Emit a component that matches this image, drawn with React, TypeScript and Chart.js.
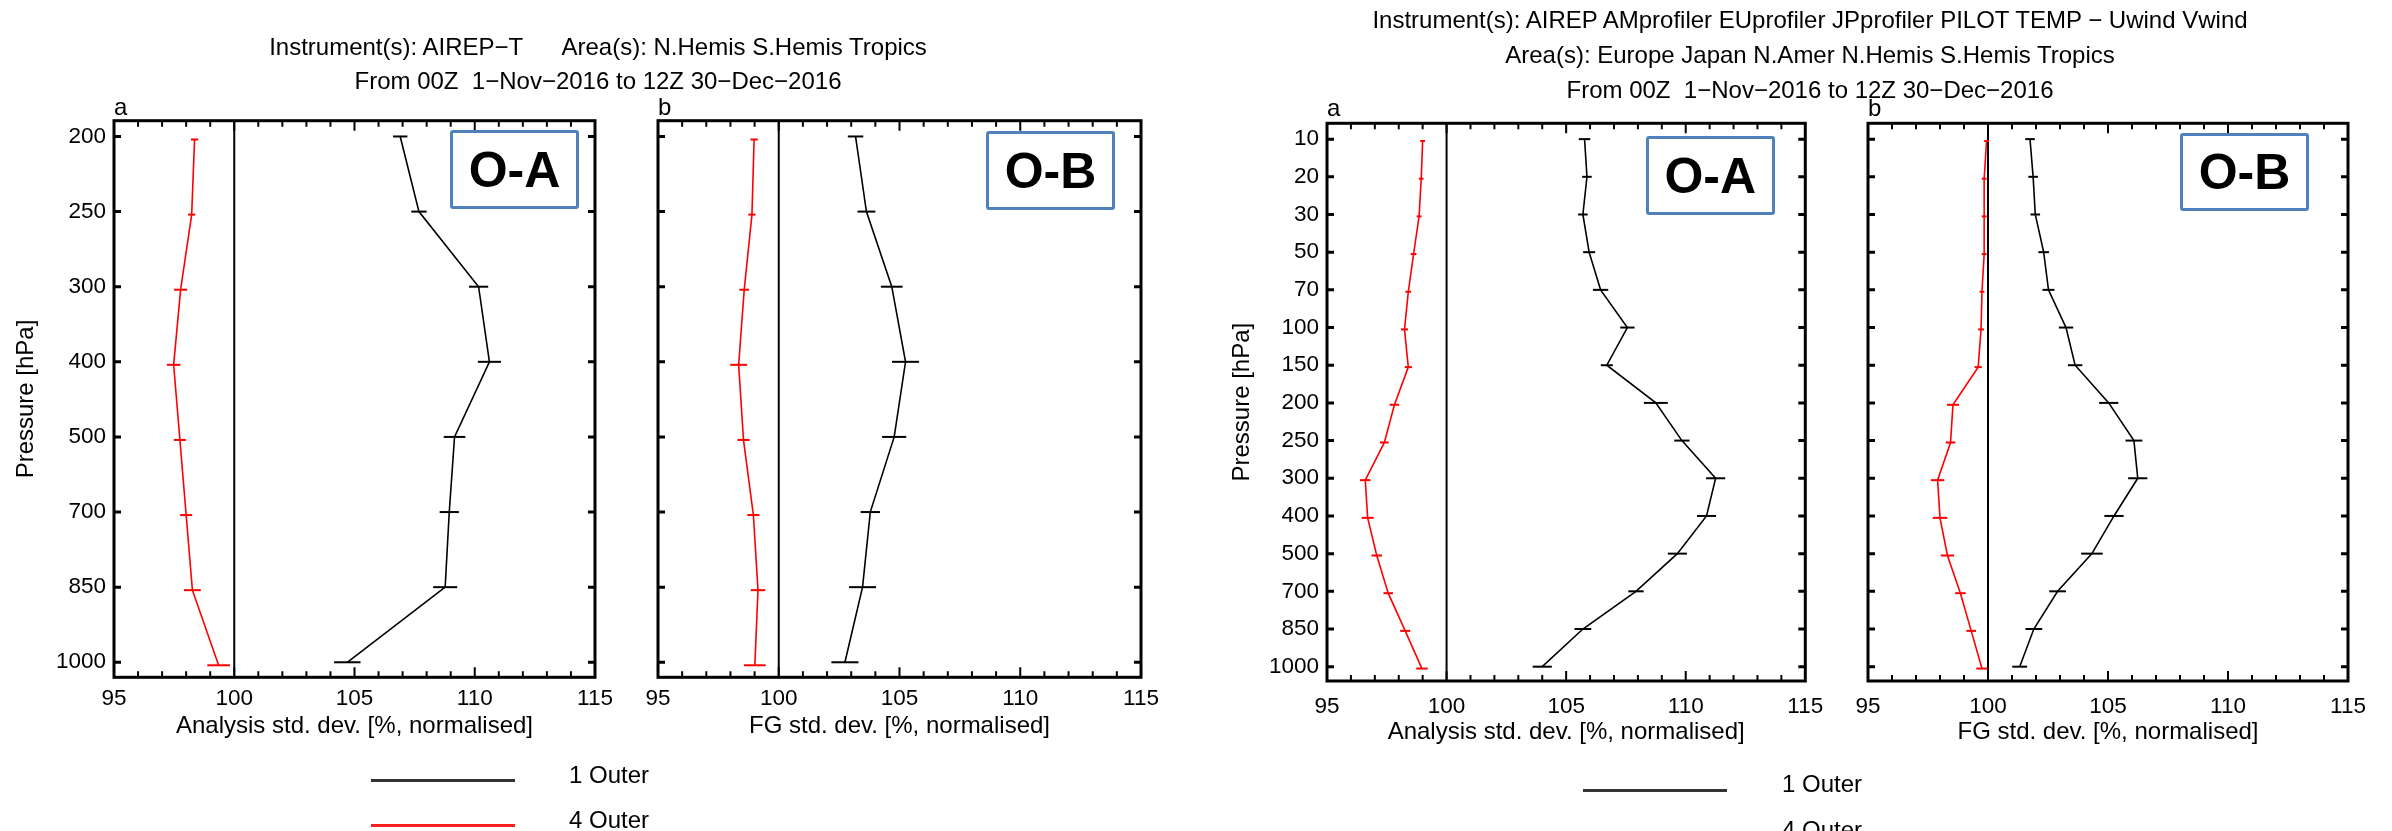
import React, { useEffect, useRef } from "react";
import { Chart, registerables } from "chart.js";

Chart.register(...registerables);

const FONT = '"Liberation Sans", Arial, Helvetica, sans-serif';

// ---------- Left figure: AIREP-T (temperature) ----------
const levelsT = ["200", "250", "300", "400", "500", "700", "850", "1000"];
const oaT1 = [106.9, 107.68, 110.16, 110.61, 109.16, 108.94, 108.77, 104.7];
const oaT1Err = [0.3, 0.32, 0.4, 0.48, 0.45, 0.4, 0.5, 0.55];
const oaT4 = [98.35, 98.23, 97.77, 97.48, 97.74, 98.0, 98.26, 99.35];
const oaT4Err = [0.15, 0.15, 0.27, 0.28, 0.25, 0.25, 0.35, 0.47];
const obT1 = [103.18, 103.63, 104.68, 105.25, 104.78, 103.79, 103.47, 102.74];
const obT1Err = [0.32, 0.37, 0.45, 0.56, 0.5, 0.4, 0.56, 0.56];
const obT4 = [98.98, 98.89, 98.57, 98.34, 98.54, 98.95, 99.14, 99.01];
const obT4Err = [0.15, 0.15, 0.2, 0.35, 0.25, 0.25, 0.3, 0.45];

// ---------- Right figure: wind ----------
const levelsW = ["10", "20", "30", "50", "70", "100", "150", "200", "250", "300", "400", "500", "700", "850", "1000"];
const oaW1 = [105.77, 105.87, 105.7, 105.96, 106.44, 107.56, 106.7, 108.75, 109.84, 111.25, 110.87, 109.65, 107.92, 105.7, 104.0];
const oaW1Err = [0.24, 0.2, 0.2, 0.25, 0.32, 0.3, 0.25, 0.5, 0.32, 0.4, 0.4, 0.4, 0.32, 0.35, 0.4];
const oaW4 = [99.0, 98.94, 98.85, 98.62, 98.4, 98.24, 98.4, 97.82, 97.4, 96.6, 96.7, 97.08, 97.56, 98.27, 98.97];
const oaW4Err = [0.1, 0.1, 0.1, 0.12, 0.12, 0.15, 0.15, 0.2, 0.18, 0.22, 0.25, 0.22, 0.2, 0.21, 0.24];
const obW1 = [101.75, 101.88, 101.97, 102.32, 102.52, 103.25, 103.63, 105.03, 106.08, 106.24, 105.25, 104.33, 102.9, 101.91, 101.32];
const obW1Err = [0.2, 0.2, 0.2, 0.22, 0.25, 0.3, 0.3, 0.4, 0.35, 0.4, 0.4, 0.45, 0.35, 0.35, 0.31];
const obW4 = [99.94, 99.84, 99.84, 99.84, 99.75, 99.71, 99.59, 98.54, 98.44, 97.9, 98.0, 98.31, 98.85, 99.3, 99.75];
const obW4Err = [0.1, 0.1, 0.1, 0.1, 0.1, 0.12, 0.15, 0.25, 0.2, 0.28, 0.3, 0.28, 0.22, 0.2, 0.24];

const seriesNames = ["1 Outer", "4 Outer"];
const seriesColors = ["#000000", "#ff0000"];
const legendLineColors = ["#333333", "#ff2020"];

const xTicks = [95, 100, 105, 110, 115];
const xMin = 95;
const xMax = 115;
const refValue = 100;

const Y_AXIS_W = 114;
const CANVAS_H = 831;

type Series = { label: string; values: number[]; errors: number[]; color: string; yShift: number };

interface PanelCfg {
  plotLeft: number;
  plotRight: number;
  plotTop: number;
  plotBottom: number;
  levels: string[];
  yMin: number;
  yMax: number;
  series: Series[];
  letter: string;
  letterGap: number;
  xTitle: string;
  yTitle?: string;
  yTitlePad: number;
  xTickPad: number;
  xTitlePadBottom: number;
}

function makePlugin(cfg: PanelCfg) {
  return {
    id: "frameAndErrors",
    beforeDatasetsDraw(chart: any) {
      const { ctx, chartArea: a, scales } = chart;
      const px = scales.x.getPixelForValue(refValue);
      ctx.save();
      ctx.strokeStyle = "#000";
      ctx.lineWidth = 2;
      ctx.beginPath();
      ctx.moveTo(px, a.top);
      ctx.lineTo(px, a.bottom);
      ctx.stroke();
      ctx.restore();
    },
    afterDatasetsDraw(chart: any) {
      const { ctx, chartArea: a, scales } = chart;
      const xs = scales.x;
      const ys = scales.y;
      ctx.save();
      // error bars (horizontal)
      chart.data.datasets.forEach((ds: any) => {
        ctx.strokeStyle = ds.borderColor;
        ctx.lineWidth = 2;
        ds.data.forEach((p: any, i: number) => {
          const e = ds.errors[i];
          const y = ys.getPixelForValue(p.y);
          ctx.beginPath();
          ctx.moveTo(xs.getPixelForValue(p.x - e), y);
          ctx.lineTo(xs.getPixelForValue(p.x + e), y);
          ctx.stroke();
        });
      });
      // frame
      ctx.strokeStyle = "#000";
      ctx.lineWidth = 3;
      ctx.strokeRect(a.left, a.top, a.right - a.left, a.bottom - a.top);
      // inward x ticks, bottom and top
      ctx.lineWidth = 2;
      for (let v = xMin + 1; v < xMax; v++) {
        const len = v % 5 === 0 ? 10 : 6;
        const px = xs.getPixelForValue(v);
        ctx.beginPath();
        ctx.moveTo(px, a.bottom);
        ctx.lineTo(px, a.bottom - len);
        ctx.moveTo(px, a.top);
        ctx.lineTo(px, a.top + len);
        ctx.stroke();
      }
      // inward y ticks, left and right
      ctx.lineWidth = 3;
      cfg.levels.forEach((_, i) => {
        const py = ys.getPixelForValue(i);
        ctx.beginPath();
        ctx.moveTo(a.left, py);
        ctx.lineTo(a.left + 7, py);
        ctx.moveTo(a.right, py);
        ctx.lineTo(a.right - 7, py);
        ctx.stroke();
      });
      // panel letter
      ctx.fillStyle = "#000";
      ctx.font = `24px ${FONT}`;
      ctx.textAlign = "left";
      ctx.textBaseline = "alphabetic";
      ctx.fillText(cfg.letter, a.left, a.top - cfg.letterGap);
      ctx.restore();
    },
  };
}

function Panel({ cfg }: { cfg: PanelCfg }) {
  const ref = useRef<HTMLCanvasElement>(null);
  const x0 = cfg.plotLeft - Y_AXIS_W;
  const width = Math.ceil(cfg.plotRight - x0) + 40;
  const padRight = width - (cfg.plotRight - x0);

  useEffect(() => {
    if (!ref.current) return;
    const chart = new Chart(ref.current, {
      type: "scatter",
      data: {
        datasets: cfg.series.map((s) => ({
          label: s.label,
          data: s.values.map((v, i) => ({ x: v, y: i + s.yShift })),
          errors: s.errors,
          borderColor: s.color,
          backgroundColor: s.color,
          showLine: true,
          pointRadius: 0,
          pointHoverRadius: 0,
          borderWidth: 1.6,
          tension: 0,
        })) as any,
      },
      options: {
        animation: false,
        responsive: false,
        maintainAspectRatio: false,
        devicePixelRatio: 1,
        layout: { padding: { left: 0, top: cfg.plotTop, right: padRight, bottom: 0 } },
        plugins: { legend: { display: false }, tooltip: { enabled: false }, title: { display: false } },
        scales: {
          x: {
            type: "linear",
            position: "bottom",
            min: xMin,
            max: xMax,
            afterBuildTicks: (s: any) => {
              s.ticks = xTicks.map((v) => ({ value: v }));
            },
            ticks: {
              color: "#000",
              font: { family: FONT, size: 22.5 },
              padding: cfg.xTickPad,
              maxRotation: 0,
              autoSkip: false,
            },
            grid: { display: false, drawTicks: false },
            border: { display: false },
            title: {
              display: true,
              text: cfg.xTitle,
              color: "#000",
              font: { family: FONT, size: 24 },
              padding: { top: 0, bottom: cfg.xTitlePadBottom },
            },
            afterFit: (s: any) => {
              s.height = CANVAS_H - cfg.plotBottom;
            },
          },
          y: {
            type: "linear",
            position: "left",
            reverse: true,
            min: cfg.yMin,
            max: cfg.yMax,
            afterBuildTicks: (s: any) => {
              s.ticks = cfg.levels.map((_, i) => ({ value: i }));
            },
            ticks: {
              display: !!cfg.yTitle,
              color: "#000",
              font: { family: FONT, size: 22.5 },
              padding: 8,
              autoSkip: false,
              callback: (v: any) => cfg.levels[v as number] ?? "",
            },
            grid: { display: false, drawTicks: false },
            border: { display: false },
            title: {
              display: !!cfg.yTitle,
              text: cfg.yTitle || "",
              color: "#000",
              font: { family: FONT, size: 24 },
              padding: { top: cfg.yTitlePad, bottom: 0 },
            },
            afterFit: (s: any) => {
              s.width = Y_AXIS_W;
            },
          },
        },
      } as any,
      plugins: [makePlugin(cfg)],
    });
    return () => chart.destroy();
  }, []);

  return (
    <canvas
      ref={ref}
      width={width}
      height={CANVAS_H}
      style={{ position: "absolute", left: x0, top: 0, width, height: CANVAS_H }}
    />
  );
}

const mkSeries = (v1: number[], e1: number[], v4: number[], e4: number[], shift: number): Series[] => [
  { label: seriesNames[0], values: v1, errors: e1, color: seriesColors[0], yShift: 0 },
  { label: seriesNames[1], values: v4, errors: e4, color: seriesColors[1], yShift: shift },
];

const panels: PanelCfg[] = [
  {
    plotLeft: 114, plotRight: 595, plotTop: 120.7, plotBottom: 677.3,
    levels: levelsT, yMin: -0.21, yMax: 7.2,
    series: mkSeries(oaT1, oaT1Err, oaT4, oaT4Err, 0.04),
    letter: "a", letterGap: 6,
    xTitle: "Analysis std. dev. [%, normalised]", yTitle: "Pressure [hPa]",
    yTitlePad: 12, xTickPad: 8, xTitlePadBottom: 90.5,
  },
  {
    plotLeft: 658, plotRight: 1141, plotTop: 120.7, plotBottom: 677.3,
    levels: levelsT, yMin: -0.21, yMax: 7.2,
    series: mkSeries(obT1, obT1Err, obT4, obT4Err, 0.04),
    letter: "b", letterGap: 6,
    xTitle: "FG std. dev. [%, normalised]",
    yTitlePad: 12, xTickPad: 8, xTitlePadBottom: 90.5,
  },
  {
    plotLeft: 1326.7, plotRight: 1805, plotTop: 123.3, plotBottom: 681,
    levels: levelsW, yMin: -0.42, yMax: 14.38,
    series: mkSeries(oaW1, oaW1Err, oaW4, oaW4Err, 0.05),
    letter: "a", letterGap: 7,
    xTitle: "Analysis std. dev. [%, normalised]", yTitle: "Pressure [hPa]",
    yTitlePad: 14.5, xTickPad: 12.5, xTitlePadBottom: 84.5,
  },
  {
    plotLeft: 1868.3, plotRight: 2348.3, plotTop: 123.3, plotBottom: 681,
    levels: levelsW, yMin: -0.42, yMax: 14.38,
    series: mkSeries(obW1, obW1Err, obW4, obW4Err, 0.05),
    letter: "b", letterGap: 7,
    xTitle: "FG std. dev. [%, normalised]",
    yTitlePad: 14.5, xTickPad: 12.5, xTitlePadBottom: 84.5,
  },
];

// Title lines: [text, centerX, baselineY]
const titleLines: [string, number, number][] = [
  ["Instrument(s): AIREP\u2212T      Area(s): N.Hemis S.Hemis Tropics", 598, 55.5],
  ["From 00Z  1\u2212Nov\u22122016 to 12Z 30\u2212Dec\u22122016", 598, 88.9],
  ["Instrument(s): AIREP AMprofiler EUprofiler JPprofiler PILOT TEMP \u2212 Uwind Vwind", 1810, 28],
  ["Area(s): Europe Japan N.Amer N.Hemis S.Hemis Tropics", 1810, 63],
  ["From 00Z  1\u2212Nov\u22122016 to 12Z 30\u2212Dec\u22122016", 1810, 98.6],
];

// boxes: [label, left, top, right, bottom]
const boxes: [string, number, number, number, number][] = [
  ["O-A", 450, 130, 579, 209],
  ["O-B", 986, 131, 1115, 210],
  ["O-A", 1646, 136, 1774.5, 215],
  ["O-B", 2180, 132.5, 2309, 211],
];

// legends: [lineX1, lineX2, lineY (first), textX, textBaseline (first), rowGap]
const legends: [number, number, number, number, number, number][] = [
  [371, 515, 780, 569, 783.6, 45],
  [1583, 1727, 790, 1782, 792.6, 46],
];

const BASE_OFF = 20.3; // baseline offset within a 24px line box

export default function App() {
  useEffect(() => {
    document.body.style.margin = "0";
  }, []);
  return (
    <div
      style={{
        position: "absolute",
        left: 0,
        top: 0,
        width: 2392,
        height: 831,
        overflow: "hidden",
        background: "#fff",
        fontFamily: FONT,
        color: "#000",
      }}
    >
      {panels.map((p, i) => (
        <Panel key={i} cfg={p} />
      ))}
      {titleLines.map(([t, cx, base], i) => (
        <div
          key={"t" + i}
          style={{
            position: "absolute",
            left: cx - 700,
            width: 1400,
            top: base - BASE_OFF,
            fontSize: 24,
            lineHeight: "24px",
            textAlign: "center",
            whiteSpace: "pre",
          }}
        >
          {t}
        </div>
      ))}
      {boxes.map(([label, l, t, r, b], i) => (
        <div
          key={"b" + i}
          style={{
            position: "absolute",
            left: l,
            top: t,
            width: r - l,
            height: b - t,
            boxSizing: "border-box",
            border: "3.5px solid #4f81bd",
            borderRadius: 3,
            display: "flex",
            alignItems: "center",
            justifyContent: "center",
            fontWeight: "bold",
            fontSize: 50,
            lineHeight: 1,
          }}
        >
          {label}
        </div>
      ))}
      {legends.map(([x1, x2, ly, tx, tb, gap], li) =>
        seriesNames.map((name, si) => (
          <React.Fragment key={"l" + li + "_" + si}>
            <div
              style={{
                position: "absolute",
                left: x1,
                width: x2 - x1,
                top: ly + si * gap - 1.5,
                height: 3,
                background: legendLineColors[si],
              }}
            />
            <div
              style={{
                position: "absolute",
                left: tx,
                top: tb + si * gap - BASE_OFF,
                fontSize: 24,
                lineHeight: "24px",
                whiteSpace: "pre",
              }}
            >
              {name}
            </div>
          </React.Fragment>
        ))
      )}
    </div>
  );
}
